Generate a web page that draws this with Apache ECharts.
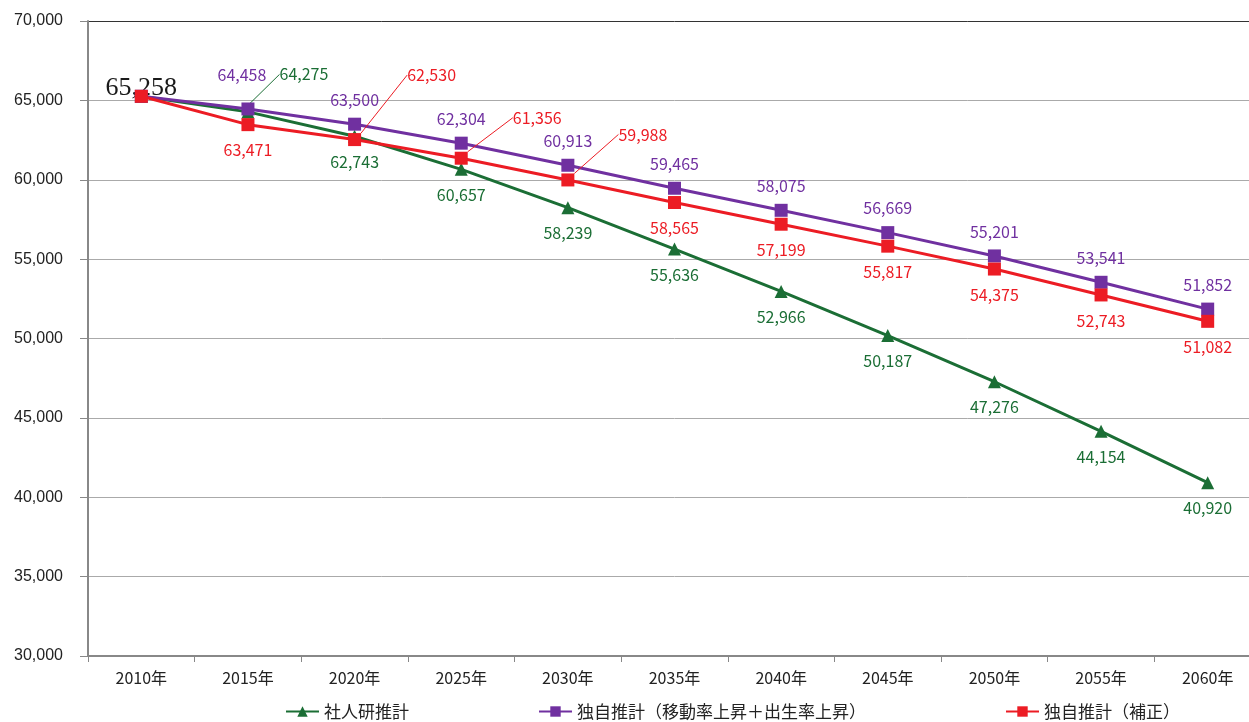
<!DOCTYPE html>
<html>
<head>
<meta charset="utf-8">
<script src="https://cdn.jsdelivr.net/npm/echarts@6/dist/echarts.min.js"></script>
<style>
html,body{margin:0;padding:0;background:#fff;overflow:hidden;}
#chart{width:1261px;height:722px;}
</style>
</head>
<body>
<div id="chart"></div>
<script>
// ---- data ----
const categories = ['2010年','2015年','2020年','2025年','2030年','2035年','2040年','2045年','2050年','2055年','2060年'];
const seriesNames = ['社人研推計','独自推計（移動率上昇＋出生率上昇）','独自推計（補正）'];
const shajinken = [65258,64275,62743,60657,58239,55636,52966,50187,47276,44154,40920];
const dokujiIdou = [65258,64458,63500,62304,60913,59465,58075,56669,55201,53541,51852];
const dokujiHosei = [65258,63471,62530,61356,59988,58565,57199,55817,54375,52743,51082];
const yTicks = {min:30000, max:70000, interval:5000};

// ---- label placement (style config, not data) ----
const placeGreen  = ['first','leader','bottom','bottom','bottom','bottom','bottom','bottom','bottom','bottom','bottom'];
const placePurple = ['none','top','top','top','top','top','top','top','top','top','top'];
const placeRed    = ['none','bottom','leader','leader','leader','bottom','bottom','bottom','bottom','bottom','bottom'];
const labelShift = {
  '0-0':[0,-8],
  '0-1':[56,-23],
  '1-1':[-6,-10],
  '2-2':[77,-50],
  '2-3':[76,-26],
  '2-4':[75,-31]
};
const colors = ['#1b6e35','#7030a0','#ec1c24'];

function buildData(values, places, color){
  return values.map((v,i)=>{
    const p = places[i];
    const item = {value:v};
    if(p==='none'){ item.label={show:false}; }
    else if(p==='top'){ item.label={show:true,position:'top',distance:10}; }
    else if(p==='bottom'){ item.label={show:true,position:'bottom',distance:11}; }
    else if(p==='leader'){
      item.label={show:true,position:'top',distance:0};
      item.labelLine={show:true,lineStyle:{color:color,width:1}};
    }
    else if(p==='first'){
      item.label={show:true,position:'inside',color:'#1a1a1a',
        fontFamily:'"Liberation Serif","DejaVu Serif",serif',fontSize:26};
    }
    return item;
  });
}

const chart = echarts.init(document.getElementById('chart'));
const labelFont = {fontFamily:'"Noto Sans CJK JP","Noto Sans",sans-serif',fontSize:16};

function mkSeries(idx, values, places, symbol){
  return {
    name: seriesNames[idx],
    type:'line',
    data: buildData(values, places, colors[idx]),
    symbol: symbol,
    symbolSize: 13,
    lineStyle:{width:3,color:colors[idx]},
    itemStyle:{color:colors[idx]},
    label:Object.assign({show:true,color:colors[idx],formatter:(p)=>echarts.format.addCommas(p.value)},labelFont),
    labelLine:{show:false},
    labelLayout:function(params){
      const k = params.seriesIndex+'-'+params.dataIndex;
      if(labelShift[k]) return {dx:labelShift[k][0],dy:labelShift[k][1]};
      return {};
    },
    z: idx+2,
    animation:false
  };
}

const legendBase = {
  top:698, itemWidth:33, itemHeight:13, itemGap:4,
  textStyle:{fontFamily:'"Noto Sans CJK JP",sans-serif',fontSize:17,color:'#222'}
};

chart.setOption({
  backgroundColor:'#fff',
  animation:false,
  grid:{left:88,right:0,top:21,bottom:66},
  legend:[
    Object.assign({left:280,data:[seriesNames[0]]},legendBase),
    Object.assign({left:533,data:[seriesNames[1]]},legendBase),
    Object.assign({left:1000,data:[seriesNames[2]]},legendBase)
  ],
  xAxis:{
    type:'category',
    data:categories,
    boundaryGap:true,
    axisLine:{lineStyle:{color:'#888',width:2}},
    axisTick:{show:true,length:6,lineStyle:{color:'#888',width:1}},
    axisLabel:{color:'#222',fontFamily:'"Noto Sans CJK JP",sans-serif',fontSize:16,margin:14}
  },
  yAxis:{
    type:'value',
    min:yTicks.min,max:yTicks.max,interval:yTicks.interval,
    axisLine:{show:true,lineStyle:{color:'#888',width:2}},
    axisTick:{show:true,length:8,lineStyle:{color:'#888'}},
    axisLabel:{color:'#222',fontFamily:'"Liberation Sans",Arial,sans-serif',fontSize:16,margin:25,
      formatter:(v)=>echarts.format.addCommas(v)},
    splitLine:{show:true,lineStyle:{color:['#aaa','#aaa','#aaa','#aaa','#aaa','#aaa','#aaa','#aaa','#333'],width:1}}
  },
  series:[
    mkSeries(0, shajinken, placeGreen, 'triangle'),
    mkSeries(1, dokujiIdou, placePurple, 'rect'),
    mkSeries(2, dokujiHosei, placeRed, 'rect')
  ]
});
</script>
</body>
</html>
